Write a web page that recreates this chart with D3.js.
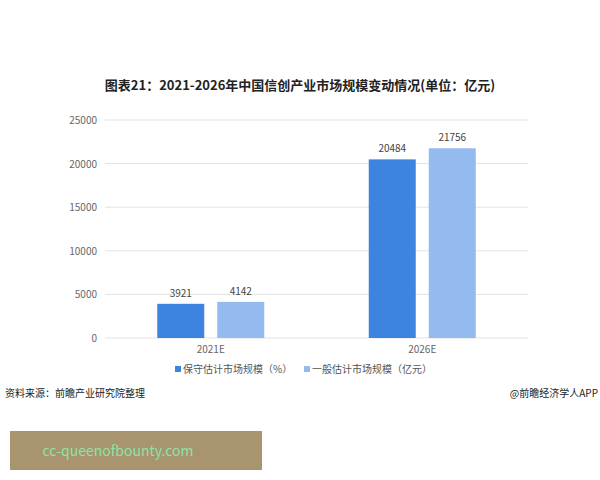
<!DOCTYPE html>
<html><head><meta charset="utf-8">
<script src="https://cdn.jsdelivr.net/npm/d3@7"></script>
<style>body{margin:0;background:#fff}svg{display:block}text{font-family:"Noto Sans CJK SC","Noto Sans",sans-serif}</style>
</head><body>
<svg id="chart" width="600" height="480"></svg>
<script>
var categories = ["2021E", "2026E"];
var seriesNames = ["保守估计市场规模（%）", "一般估计市场规模（亿元）"];
var conservative = [3921, 20484];
var general = [4142, 21756];
var yTicks = [0, 5000, 10000, 15000, 20000, 25000];
var colors = ["#3d84e0", "#93bbf0"];

var svg = d3.select("#chart");

svg.append("text").attr("x", 300).attr("y", 90).attr("text-anchor", "middle")
    .attr("font-size", 13).attr("font-weight", "bold").attr("fill", "#222")
    .text("图表21：2021-2026年中国信创产业市场规模变动情况(单位：亿元)");

var x = d3.scaleBand().domain(categories).range([105, 528]);
var y = d3.scaleLinear().domain([0, 25000]).range([338, 120]);

svg.append("g").selectAll("line").data(yTicks).join("line")
    .attr("x1", 105).attr("x2", 528)
    .attr("y1", d => y(d)).attr("y2", d => y(d))
    .attr("stroke", "#e3e3e3");

svg.append("g").selectAll("text").data(yTicks).join("text")
    .attr("x", 97).attr("y", d => y(d) + 4).attr("text-anchor", "end")
    .attr("font-size", 10).attr("fill", "#666").text(d => d);

var barW = 47, gap = 13;
var series = [conservative, general];
series.forEach(function(vals, si) {
    var g = svg.append("g");
    var off = si === 0 ? -gap / 2 - barW : gap / 2;
    g.selectAll("rect").data(categories).join("rect")
        .attr("x", (d, i) => x(d) + x.bandwidth() / 2 + off)
        .attr("y", (d, i) => y(vals[i]))
        .attr("width", barW)
        .attr("height", (d, i) => y(0) - y(vals[i]))
        .attr("fill", colors[si]);
    g.selectAll("text").data(categories).join("text")
        .attr("x", (d, i) => x(d) + x.bandwidth() / 2 + off + barW / 2)
        .attr("y", (d, i) => y(vals[i]) - 7)
        .attr("text-anchor", "middle").attr("font-size", 10).attr("fill", "#444")
        .text((d, i) => vals[i]);
});

svg.append("g").selectAll("text").data(categories).join("text")
    .attr("x", d => x(d) + x.bandwidth() / 2).attr("y", 353)
    .attr("text-anchor", "middle").attr("font-size", 10).attr("fill", "#666").text(d => d);

var legX = [175, 304];
seriesNames.forEach(function(n, i) {
    svg.append("rect").attr("x", legX[i]).attr("y", 366).attr("width", 6).attr("height", 6).attr("fill", colors[i]);
    svg.append("text").attr("x", legX[i] + 8).attr("y", 373).attr("font-size", 10).attr("fill", "#555").text(n);
});

svg.append("text").attr("x", 5).attr("y", 397).attr("font-size", 10).attr("fill", "#222").text("资料来源：前瞻产业研究院整理");
svg.append("text").attr("x", 598).attr("y", 397).attr("text-anchor", "end").attr("font-size", 10).attr("fill", "#222").text("@前瞻经济学人APP");

svg.append("rect").attr("x", 10).attr("y", 431).attr("width", 252).attr("height", 39).attr("fill", "#a8946f");
svg.append("text").attr("x", 118).attr("y", 456).attr("text-anchor", "middle")
    .attr("font-size", 14).attr("fill", "#8fe3a6").attr("font-family", "DejaVu Sans").text("cc-queenofbounty.com");
</script>
</body></html>
